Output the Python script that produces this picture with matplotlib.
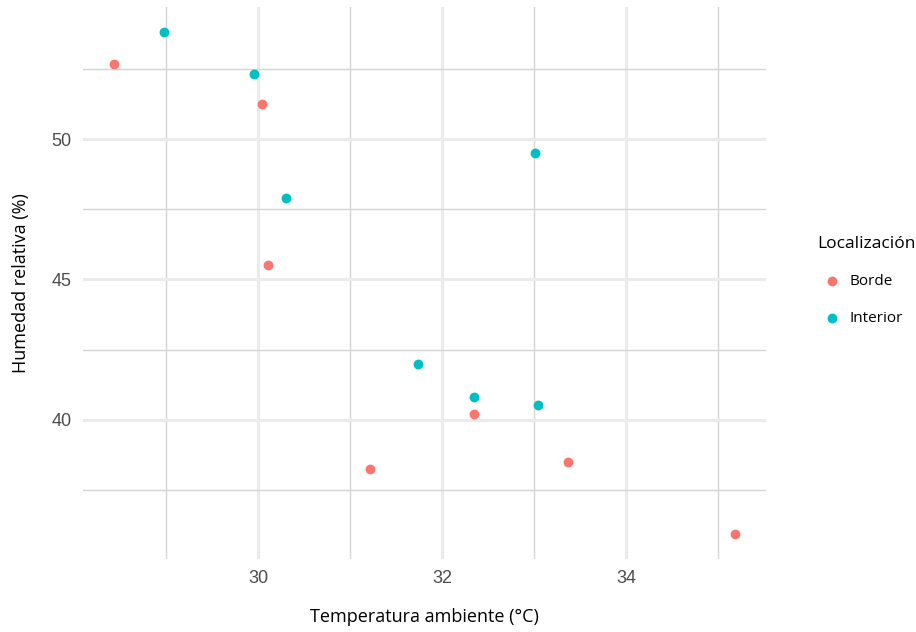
import matplotlib
matplotlib.use("Agg")
import matplotlib.pyplot as plt
from matplotlib.ticker import MultipleLocator

# temperatura (x) y humedad (y) por localizacion
borde_temp = [28.43, 30.04, 30.10, 31.21, 32.34, 33.37, 35.18]
borde_hum = [52.67, 51.25, 45.52, 38.26, 40.21, 38.51, 35.94]
interior_temp = [28.97, 29.95, 30.30, 33.01, 31.74, 32.34, 33.04]
interior_hum = [53.81, 52.31, 47.90, 49.50, 41.99, 40.82, 40.53]

series = [("Borde", borde_temp, borde_hum, "#F8766D"),
          ("Interior", interior_temp, interior_hum, "#00BFC4")]

fig = plt.figure(figsize=(9.16, 6.32), dpi=100)
ax = fig.add_axes([0.0906, 0.1155, 0.836 - 0.0906, 0.989 - 0.1155])

for name, xs, ys, col in series:
    ax.scatter(xs, ys, s=50, color=col, label=name, zorder=3, linewidths=0)

allx = borde_temp + interior_temp
ally = borde_hum + interior_hum
dx = (max(allx) - min(allx)) * 0.05
dy = (max(ally) - min(ally)) * 0.05
ax.set_xlim(min(allx) - dx, max(allx) + dx)
ax.set_ylim(min(ally) - dy, max(ally) + dy)

ax.xaxis.set_major_locator(MultipleLocator(2))
ax.xaxis.set_minor_locator(MultipleLocator(1))
ax.yaxis.set_major_locator(MultipleLocator(5))
ax.yaxis.set_minor_locator(MultipleLocator(2.5))

ax.grid(which="major", color="#EBEBEB", linewidth=2.2, zorder=0)
ax.grid(which="minor", color="#D4D4D4", linewidth=1.0, zorder=0)
ax.set_axisbelow(True)
for sp in ax.spines.values():
    sp.set_visible(False)
ax.tick_params(which="both", length=0)
ax.tick_params(axis="both", labelsize=13, labelcolor="#4D4D4D", pad=8)
for lab in ax.get_xticklabels() + ax.get_yticklabels():
    lab.set_family("Liberation Sans")

ax.set_xlabel("Temperatura ambiente (°C)", fontsize=13, family="Open Sans", labelpad=15)
ax.set_ylabel("Humedad relativa (%)", fontsize=13, family="Open Sans", labelpad=16)

leg = ax.legend(title="Localización", loc="center left", bbox_to_anchor=(1.055, 0.503),
                frameon=False, prop={"family": "Open Sans", "size": 11},
                title_fontproperties={"family": "Open Sans", "size": 12.5},
                labelspacing=1.45, handletextpad=0.15, markerscale=1.0,
                alignment="left")

fig.savefig("out.png", dpi=100)
